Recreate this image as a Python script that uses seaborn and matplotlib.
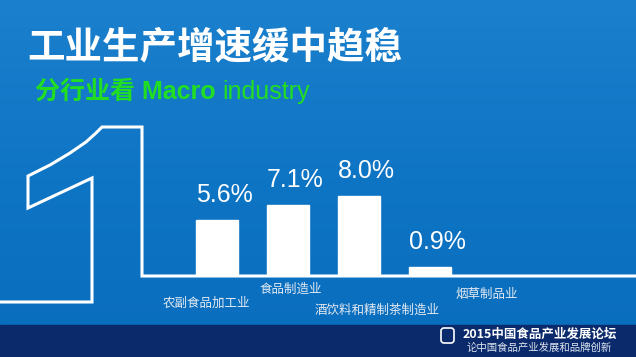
import numpy as np
import pandas as pd
import matplotlib.pyplot as plt
import seaborn as sns
from matplotlib.patches import Rectangle, FancyBboxPatch
from matplotlib.colors import LinearSegmentedColormap

# === Chart data ===
CATEGORIES = ["农副食品加工业", "食品制造业", "酒饮料和精制茶制造业", "烟草制品业"]
GROWTH = [5.6, 7.1, 8.0, 0.9]
VALUE_LABELS = ["5.6%", "7.1%", "8.0%", "0.9%"]

TITLE = "工业生产增速缓中趋稳"
SUBTITLE_BOLD = "分行业看 Macro"
SUBTITLE_LIGHT = "industry"
FOOTER_1 = "2015中国食品产业发展论坛"
FOOTER_2 = "论中国食品产业发展和品牌创新"

# === Layout (pixels, figure is 636x357) ===
W, H = 636, 357
BASE_Y = 276
# category label offsets from the bar bottom centre (px): dx, dy
LABEL_OFFSETS = [(-11, 27), (3, 13), (18, 34), (57, 18)]
GREEN = "#22de22"

sns.set_style("white")
plt.rcParams["font.family"] = ["Liberation Sans", "Noto Sans CJK SC"]

fig = plt.figure(figsize=(W / 100, H / 100), dpi=100)

# --- background in pixel coordinates ---
bg = fig.add_axes([0, 0, 1, 1])
bg.set_xlim(0, W)
bg.set_ylim(H, 0)
bg.axis("off")
cmap = LinearSegmentedColormap.from_list("bg", ["#1b80cd", "#0e74c4", "#0a6dbd"])
bg.imshow(np.linspace(0, 1, 256)[:, None], extent=(0, W, H, 0), cmap=cmap,
          aspect="auto", zorder=0)
bg.add_patch(Rectangle((0, 325), W, H - 325, color="#0b2a6c", zorder=1))

# outlined big "1" that runs into the baseline
one_x = [0, 92, 92, 28, 28, 50, 70, 86, 96, 102, 142, 142, W]
one_y = [302, 302, 178, 208, 176, 165, 153, 142, 133, 127, 127, BASE_Y, BASE_Y]
bg.plot(one_x, one_y, color="white", lw=2.2, solid_joinstyle="miter", zorder=2)

bg.text(27, 47, TITLE, fontsize=27, weight="bold", color="white",
        va="center", ha="left", family=["Noto Sans CJK SC"])

# subtitle: bold part, then light "industry" right after it
sub = bg.text(35, 92, SUBTITLE_BOLD, fontsize=18, weight="bold", color=GREEN,
              va="center", ha="left")
fig.canvas.draw()
x_end = bg.transData.inverted().transform((sub.get_window_extent().x1, 0))[0]
bg.text(x_end + 7, 92, SUBTITLE_LIGHT, fontsize=18, color=GREEN,
        va="center", ha="left")

# footer
bg.add_patch(FancyBboxPatch((441, 328), 13, 15,
                            boxstyle="round,pad=0,rounding_size=3",
                            fill=False, ec="white", lw=1.2, zorder=3))
bg.text(463, 334, FOOTER_1, fontsize=9, weight="bold", color="white",
        va="center", ha="left", family=["Noto Sans CJK SC"])
bg.text(467, 348, FOOTER_2, fontsize=7.5, color="#dfe6f0",
        va="center", ha="left", family=["Noto Sans CJK SC"])

# --- bars ---
ax = fig.add_axes([181.5 / W, (H - BASE_Y) / H, 284 / W, 120 / H])
df = pd.DataFrame({"industry": CATEGORIES, "growth": GROWTH})
sns.barplot(data=df, x="industry", y="growth", color="white", saturation=1,
            width=0.58, errorbar=None, ax=ax, zorder=3)
ax.set_xlim(-0.5, 3.5)
ax.set_ylim(0, 12)
ax.axis("off")
ax.patch.set_alpha(0)

for i, (v, lab) in enumerate(zip(GROWTH, VALUE_LABELS)):
    ax.annotate(lab, xy=(i, v), xytext=(5, 13), textcoords="offset points",
                ha="center", va="baseline", fontsize=18, color="white")

for i, (cat, (dx, dy)) in enumerate(zip(CATEGORIES, LABEL_OFFSETS)):
    ax.annotate(cat, xy=(i, 0), xytext=(dx * 0.72, -dy * 0.72),
                textcoords="offset points", ha="center", va="center",
                fontsize=9, color="#e3eaf2", family=["Noto Sans CJK SC"],
                annotation_clip=False)

fig.savefig("out.png", dpi=100)
